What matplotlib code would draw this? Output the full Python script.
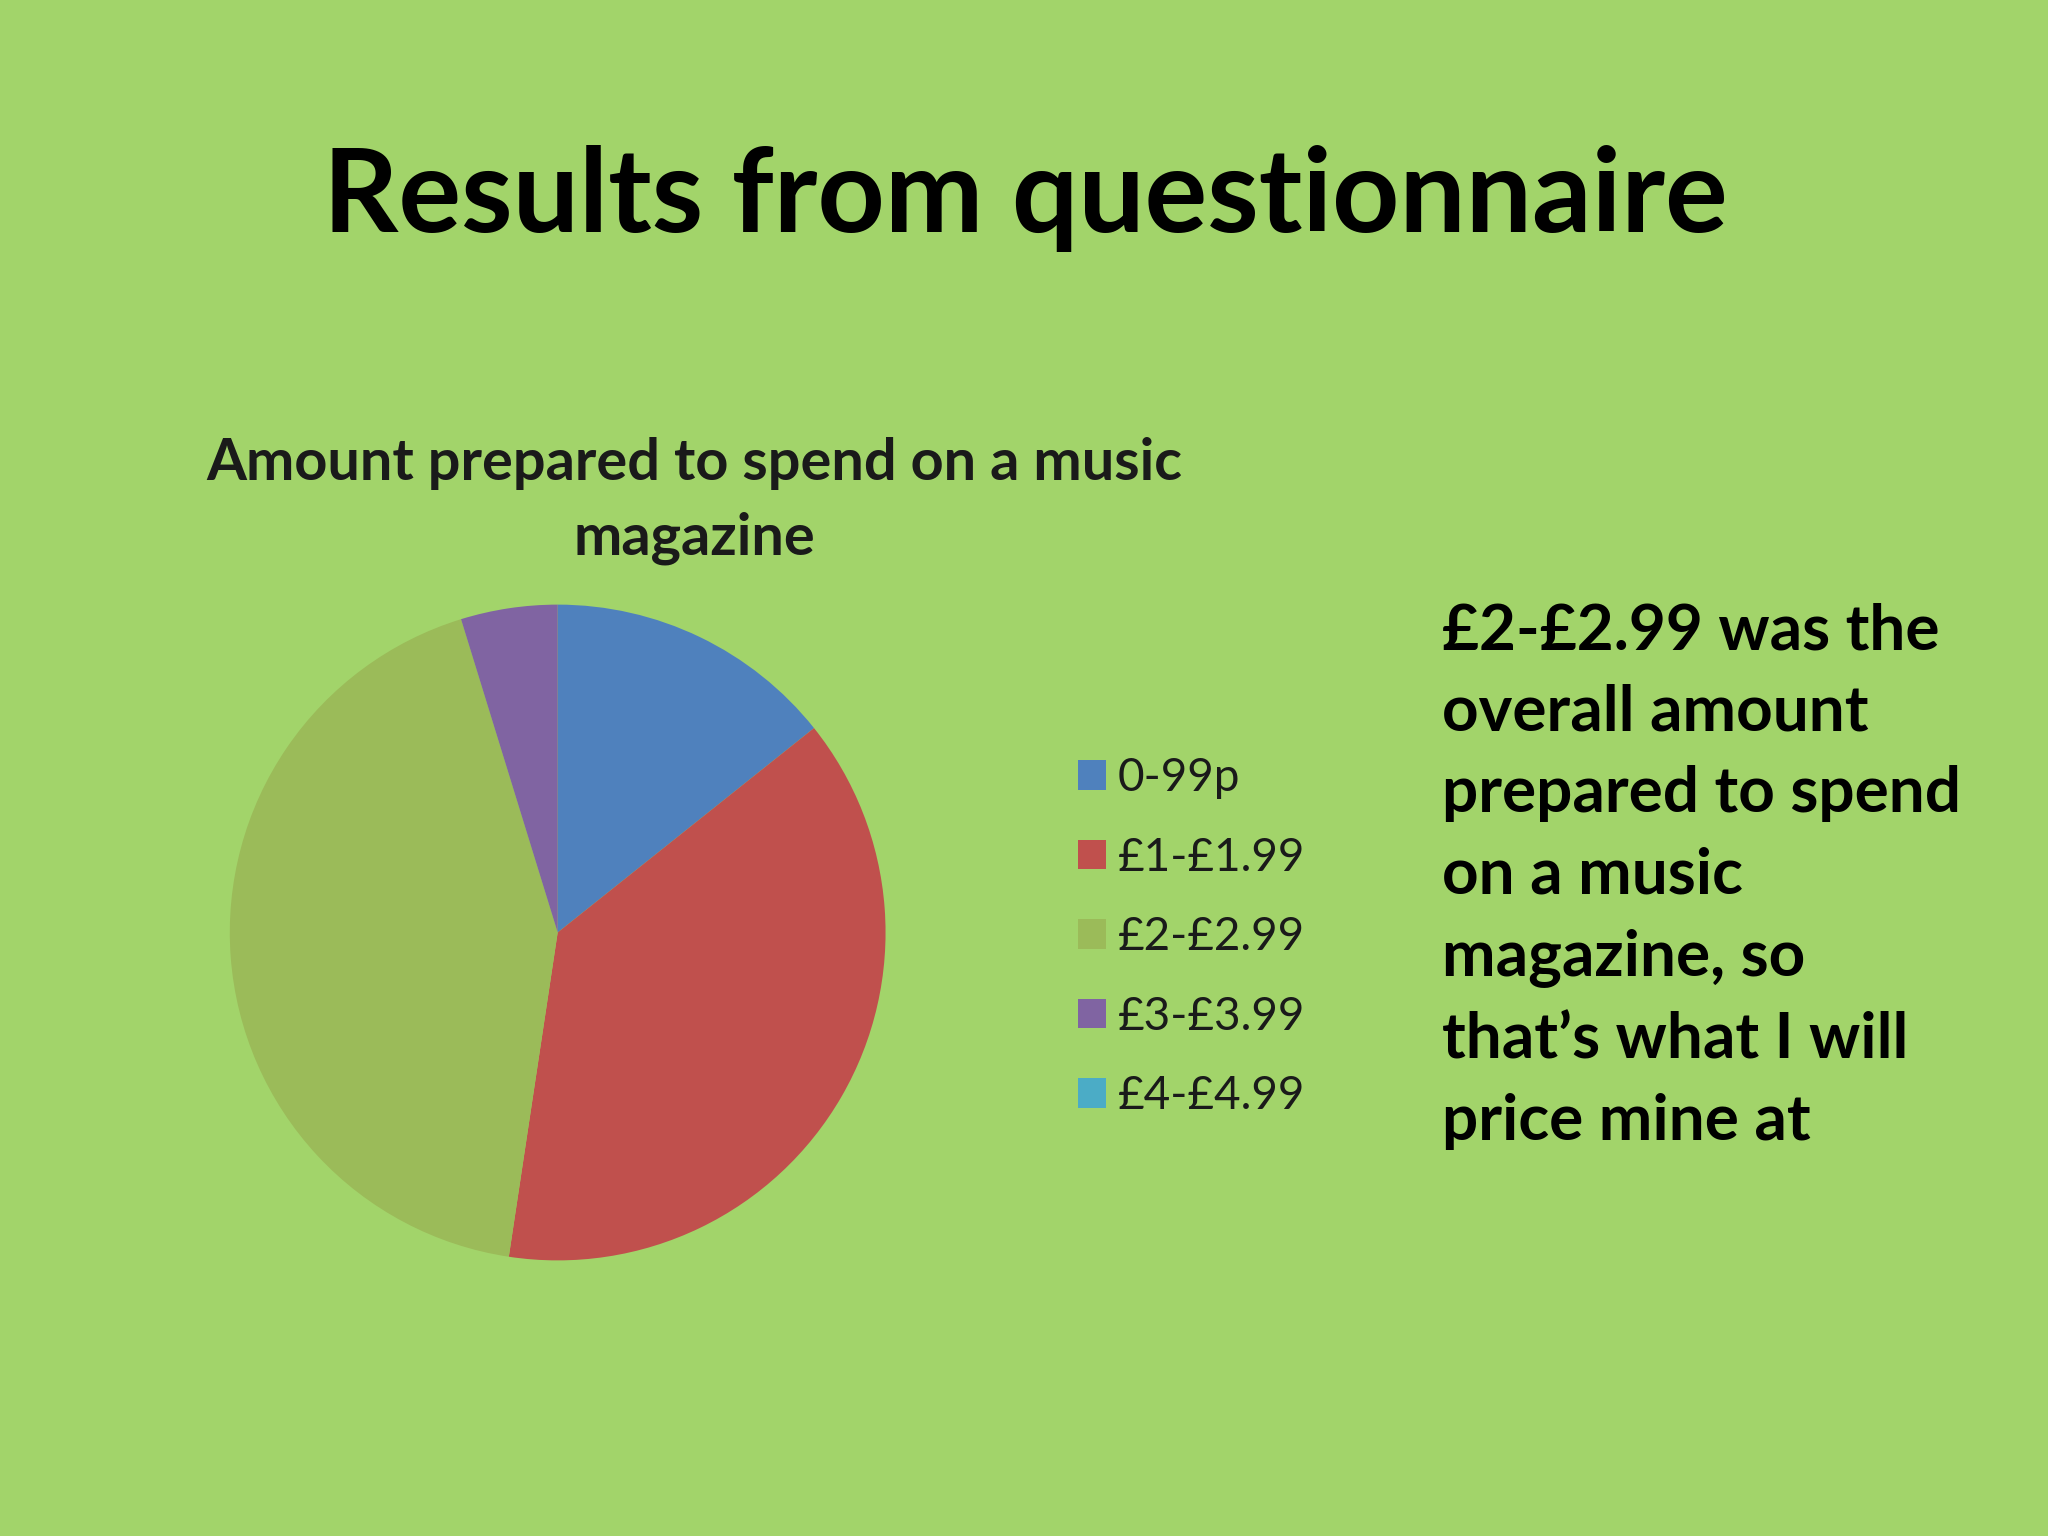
import matplotlib
matplotlib.use("Agg")
import matplotlib.pyplot as plt

plt.rcParams['font.family'] = ['Lato', 'DejaVu Sans']

categories = ["0-99p", "£1-£1.99", "£2-£2.99", "£3-£3.99", "£4-£4.99"]
counts = [3, 8, 9, 1, 0]
colors = ["#4F81BD", "#C0504D", "#9BBB59", "#8064A2", "#4BACC6"]

slide_title = "Results from questionnaire"
chart_title = "Amount prepared to spend on a music\nmagazine"
comment = ("£2-£2.99 was the\noverall amount\nprepared to spend\non a music\n"
           "magazine, so\nthat’s what I will\nprice mine at")

bg = "#A2D46A"

fig = plt.figure(figsize=(20.48, 15.36), dpi=100)
fig.patch.set_facecolor(bg)

# pie axes, square in pixels
cx, cy = 0.2723, 0.3929
rw, rh = 0.1601, 0.2135
ax = fig.add_axes([cx - rw, cy - rh, 2 * rw, 2 * rh])
ax.set_facecolor(bg)
wedges, _ = ax.pie(counts, colors=colors, startangle=90, counterclock=False,
                   radius=1.0, wedgeprops=dict(linewidth=0))
ax.set_xlim(-1, 1)
ax.set_ylim(-1, 1)
ax.set_aspect('equal')
ax.axis('off')

fig.text(0.5005, 0.871, slide_title, ha='center', va='center',
         fontsize=84.5, fontweight='bold', color='black')
fig.text(0.339, 0.674, chart_title, ha='center', va='center',
         fontsize=41.5, fontweight='bold', color='#1a1a1a', linespacing=1.49)

leg = fig.legend(wedges, categories, loc='upper left',
                 bbox_to_anchor=(0.506, 0.534), frameon=False,
                 fontsize=33, handlelength=0.62, handleheight=0.62,
                 handletextpad=0.25, labelspacing=0.82)
for t in leg.get_texts():
    t.set_color('#1a1a1a')

fig.text(0.704, 0.608, comment, ha='left', va='top',
         fontsize=46, fontweight='bold', color='black', linespacing=1.52)

fig.savefig("out.png", dpi=100, facecolor=bg)
